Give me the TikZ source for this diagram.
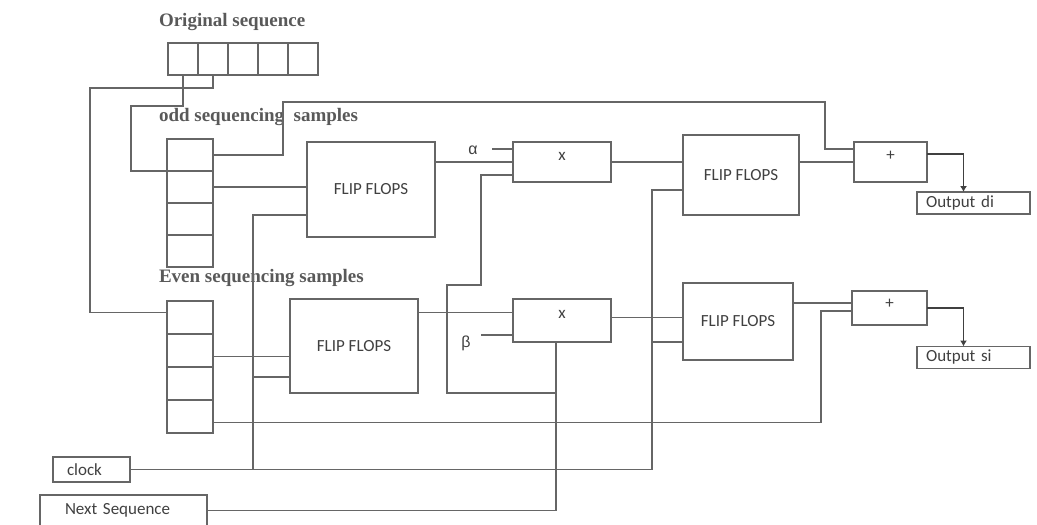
\documentclass[tikz,border=0pt]{standalone}
\usepackage{fontspec}
\setmainfont{Liberation Serif}
\newfontfamily\boxfont{Carlito}
\newfontfamily\greekfont{Liberation Sans}
\usetikzlibrary{arrows.meta}

\begin{document}
\begin{tikzpicture}[x=1pt, y=-1pt, line width=1.3pt, draw=black!60,
	every node/.style={inner sep=0pt, outer sep=0pt},
	box/.style={draw=black!60, font=\boxfont\fontsize{17}{19}\selectfont, text=black!75},
	opbox/.style={box, text depth=12pt},
	cell/.style={draw=black!60},
	heading/.style={font=\fontsize{19}{21}\selectfont\bfseries, text=black!65, anchor=west},
	greek/.style={font=\greekfont\fontsize{16}{18}\selectfont, text=black!75},
	outbox/.style={box, text width=95pt, inner xsep=9pt, align=left, minimum height=22pt},
	>={Latex[length=6pt, width=7pt]}]
	\useasboundingbox (0,0) rectangle (1037,525);
	% sample registers
	\node[heading] (orighead) at (159,22) {Original sequence};
	\node[heading] (oddhead) at (159,117) {odd sequencing\ \ samples};
	\node[heading] (evenhead) at (159,278) {Even sequencing samples};
	\foreach \i in {1,...,5} \node[cell, minimum width=30pt, minimum height=32pt] (orig\i) at ({153+30*\i},59) {};
	\foreach \i in {1,...,4} \node[cell, minimum width=46pt, minimum height=32pt] (odd\i) at (190,{123+32*\i}) {};
	\foreach \i in {1,...,4} \node[cell, minimum width=46pt, minimum height=33pt] (even\i) at (190,{284.5+33*\i}) {};
	% blocks
	\node[box, minimum width=128pt, minimum height=95pt] (ff1) at (371,189.5) {FLIP FLOPS};
	\node[box, minimum width=128pt, minimum height=94pt] (ff2) at (354,346) {FLIP FLOPS};
	\node[box, minimum width=116pt, minimum height=80pt] (ff3) at (741,175) {FLIP FLOPS};
	\node[box, minimum width=110pt, minimum height=77pt] (ff4) at (738,321.5) {FLIP FLOPS};
	\node[opbox, minimum width=98pt, minimum height=40pt] (x1) at (562,162) {x};
	\node[opbox, minimum width=98pt, minimum height=43pt] (x2) at (562,320.5) {x};
	\node[opbox, minimum width=73pt, minimum height=40pt] (plus1) at (890.5,162) {+};
	\node[box, text depth=8pt, minimum width=75pt, minimum height=34pt] (plus2) at (889.5,308) {+};
	\node[outbox] (out1) at (973.5,203) {Output di};
	\node[outbox] (out2) at (973.5,357.5) {Output si};
	\node[box, text width=49pt, inner xsep=14pt, align=left, minimum height=25pt] (clock) at (91.5,469.5) {clock};
	\node[box, text width=117pt, inner xsep=25pt, align=left, minimum height=31pt] (next) at (123.5,510.5) {Next Sequence};
	\node[greek] (alpha) at (473,150) {α};
	\node[greek] (beta) at (466,343) {β};
	% splitting
	\coordinate (c1) at (131,106);
	\coordinate (c2) at (90,88);
	\coordinate (c3) at (283,102);
	\coordinate (c4) at (825,149);
	\draw (orig1.south) |- (c1) |- (odd1.south west);
	\draw (orig2.south) |- (c2) |- ([yshift=5pt]even1.west);
	\draw (odd1.east) -| (c3) -| (c4) -- (c4 -| plus1.west);
	\draw (odd2.east) -- (odd2.east -| ff1.west);
	\draw ([yshift=-6pt]even2.east) -- ([yshift=-6pt]even2.east -| ff2.west);
	\coordinate (s1) at (821,311);
	\draw ([yshift=-6pt]even4.east) -| (s1) -- (s1 -| plus2.west);
	% clock lines
	\coordinate (k1) at (253,215);
	\coordinate (k2) at (253,377);
	\coordinate (k3) at (652,190);
	\coordinate (k4) at (652,342);
	\draw (k1 -| ff1.west) -- (k1) -- (k1 |- clock.east);
	\draw (k2) -- (k2 -| ff2.west);
	\draw (clock.east) -| (k3) -- (k3 -| ff3.west);
	\draw (k4) -- (k4 -| ff4.west);
	% multipliers
	\draw (x1.west -| ff1.east) -- (x1.west);
	\draw ([yshift=13pt]x1.west) -- ++(-21,0);
	\draw ([yshift=8pt]x2.west -| ff2.east) -- ([yshift=8pt]x2.west);
	\draw ([yshift=-14.5pt]x2.west) -- ++(-32,0);
	\coordinate (l1) at (481,175);
	\coordinate (l2) at (447,285);
	\coordinate (l3) at (556,393);
	\draw (l1 -| x1.west) -- (l1) |- (l2) |- (l3);
	\draw (next.east) -| ([xshift=-6pt]x2.south);
	\draw (x1.east) -- (x1.east -| ff3.west);
	\draw ([yshift=3pt]x2.east) -- ([yshift=3pt]x2.east -| ff4.west);
	% adders and outputs
	\draw (plus1.west -| ff3.east) -- (plus1.west);
	\draw ([yshift=5pt]plus2.west -| ff4.east) -- ([yshift=5pt]plus2.west);
	\draw[->, black!75] ([yshift=8pt]plus1.east) -| ([xshift=-10pt]out1.north);
	\draw[->, black!75] (plus2.east) -| ([xshift=-10pt]out2.north);
\end{tikzpicture}
\end{document}
